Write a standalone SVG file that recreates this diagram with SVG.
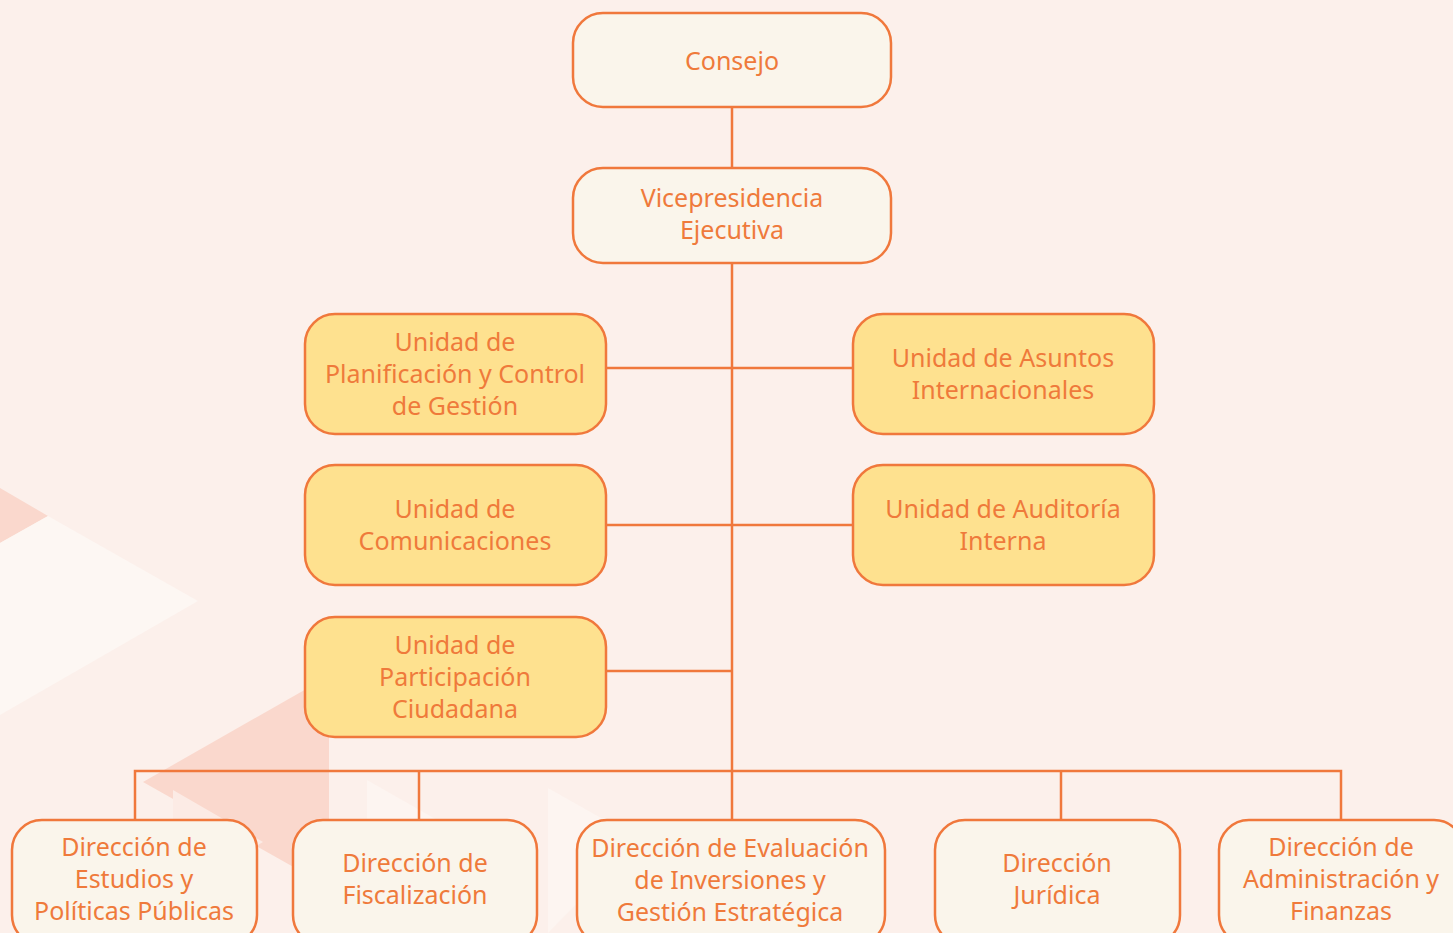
<svg xmlns="http://www.w3.org/2000/svg" width="1453" height="933" viewBox="0 0 1453 933">
<style>
.n rect{stroke:#f0783c;stroke-width:2.5}
.w rect{fill:#faf5eb}
.y rect{fill:#fee18f}
text{font-family:"Noto Sans","Open Sans",sans-serif;font-size:25px;fill:#ef7a3b;text-anchor:middle}
.c{stroke:#f0783c;stroke-width:2.5;fill:none}
</style>
<rect x="0" y="0" width="1453" height="933" fill="#fcf0eb"/>
<g id="background">
<polygon points="0,488 48,516 0,543" fill="#fad8cd"/>
<polygon points="0,543 48,516 198,601 0,715" fill="#fdf7f3"/>
<polygon points="143,782 329,676 329,887" fill="#fad8cd"/>
<polygon points="173,790 263,842 173,894" fill="#fcebe5"/>
<polygon points="367,780 460,833 367,886" fill="#fdf5f1"/>
<polygon points="548,788 640,840 548,933" fill="#fdf5f1"/>
</g>
<g id="connectors" class="c">
<line x1="732" y1="107" x2="732" y2="168"/>
<line x1="732" y1="263" x2="732" y2="820"/>
<line x1="606" y1="368" x2="853" y2="368"/>
<line x1="606" y1="525" x2="853" y2="525"/>
<line x1="606" y1="671" x2="732" y2="671"/>
<polyline points="135,820 135,771 1341,771 1341,820"/>
<line x1="419" y1="771" x2="419" y2="820"/>
<line x1="1061" y1="771" x2="1061" y2="820"/>
</g>
<g id="consejo" class="n w"><rect x="573" y="13" width="318" height="94" rx="30"/><text x="732" y="70">Consejo</text></g>
<g id="vicepresidencia" class="n w"><rect x="573" y="168" width="318" height="95" rx="30"/><text x="732" y="207">Vicepresidencia</text><text x="732" y="239">Ejecutiva</text></g>
<g id="planificacion" class="n y"><rect x="305" y="314" width="301" height="120" rx="30"/><text x="455" y="351">Unidad de</text><text x="455" y="383">Planificación y Control</text><text x="455" y="415">de Gestión</text></g>
<g id="asuntos" class="n y"><rect x="853" y="314" width="301" height="120" rx="30"/><text x="1003" y="367">Unidad de Asuntos</text><text x="1003" y="399">Internacionales</text></g>
<g id="comunicaciones" class="n y"><rect x="305" y="465" width="301" height="120" rx="30"/><text x="455" y="518">Unidad de</text><text x="455" y="550">Comunicaciones</text></g>
<g id="auditoria" class="n y"><rect x="853" y="465" width="301" height="120" rx="30"/><text x="1003" y="518">Unidad de Auditoría</text><text x="1003" y="550">Interna</text></g>
<g id="participacion" class="n y"><rect x="305" y="617" width="301" height="120" rx="30"/><text x="455" y="654">Unidad de</text><text x="455" y="686">Participación</text><text x="455" y="718">Ciudadana</text></g>
<g id="estudios" class="n w"><rect x="12" y="820" width="245" height="125" rx="30"/><text x="134" y="856">Dirección de</text><text x="134" y="888">Estudios y</text><text x="134" y="920">Políticas Públicas</text></g>
<g id="fiscalizacion" class="n w"><rect x="293" y="820" width="244" height="125" rx="30"/><text x="415" y="872">Dirección de</text><text x="415" y="904">Fiscalización</text></g>
<g id="evaluacion" class="n w"><rect x="577" y="820" width="308" height="125" rx="30"/><text x="730" y="857">Dirección de Evaluación</text><text x="730" y="889">de Inversiones y</text><text x="730" y="921">Gestión Estratégica</text></g>
<g id="juridica" class="n w"><rect x="935" y="820" width="245" height="125" rx="30"/><text x="1057" y="872">Dirección</text><text x="1057" y="904">Jurídica</text></g>
<g id="administracion" class="n w"><rect x="1219" y="820" width="245" height="125" rx="30"/><text x="1341" y="856">Dirección de</text><text x="1341" y="888">Administración y</text><text x="1341" y="920">Finanzas</text></g>
</svg>
